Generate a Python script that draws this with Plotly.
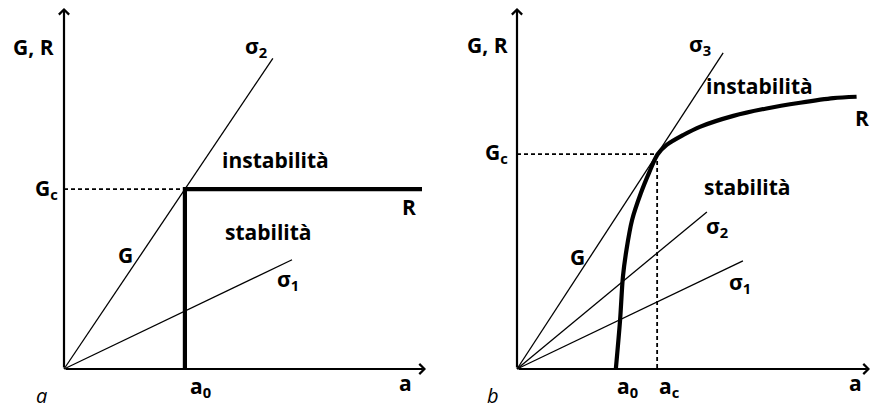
import plotly.graph_objects as go

# ---- panel a: constant resistance R ----
a0_A = 3.34          # initial crack length
Gc_A = 5.08          # critical energy release rate
sig_A_names = ["σ<sub>2</sub>", "σ<sub>1</sub>"]
sig_A_slopes = [Gc_A / a0_A, 0.49]
sig_A_ends = [5.77, 6.30]
R_A_end = 9.89

# ---- panel b: rising R-curve ----
ac_B = 3.97
Gc_B = 6.07
sig_B_names = ["σ<sub>3</sub>", "σ<sub>2</sub>", "σ<sub>1</sub>"]
sig_B_slopes = [Gc_B / ac_B, 0.825, 0.477]
sig_B_ends = [5.84, 5.38, 6.40]
R_B_a = [2.80, 2.92, 3.00, 3.10, 3.26, 3.51, 3.74, 3.98, 4.24, 4.71, 5.18, 6.13, 7.07, 8.02, 8.96, 9.62]
R_B_G = [0.00, 1.38, 2.60, 3.36, 4.21, 4.97, 5.54, 6.06, 6.33, 6.61, 6.84, 7.15, 7.36, 7.52, 7.65, 7.69]

# text labels: (text, a, G, style)
labels_A = [
    ("G, R", -0.84, 9.10, "b"), ("σ<sub>2</sub>", 5.30, 9.10, "b"),
    ("instabilità", 5.83, 5.90, "b"), ("G<sub>c</sub>", -0.47, 5.08, "b"),
    ("R", 9.53, 4.58, "b"), ("stabilità", 5.64, 3.87, "b"),
    ("G", 1.71, 3.22, "b"), ("σ<sub>1</sub>", 6.19, 2.51, "b"),
    ("a<sub>0</sub>", 3.76, -0.51, "b"), ("a", 9.42, -0.40, "b"),
    ("a", -0.61, -0.74, "i"),
]
labels_B = [
    ("G, R", -0.85, 9.15, "b"), ("σ<sub>3</sub>", 5.18, 9.15, "b"),
    ("instabilità", 6.88, 7.99, "b"), ("R", 9.77, 7.09, "b"),
    ("G<sub>c</sub>", -0.57, 6.10, "b"), ("stabilità", 6.54, 5.14, "b"),
    ("σ<sub>2</sub>", 5.67, 4.01, "b"), ("G", 1.70, 3.16, "b"),
    ("σ<sub>1</sub>", 6.32, 2.43, "b"), ("a<sub>0</sub>", 3.14, -0.51, "b"),
    ("a<sub>c</sub>", 4.33, -0.51, "b"), ("a", 9.58, -0.40, "b"),
    ("b", -0.68, -0.74, "i"),
]
axis_tip_a = 10.0
axis_tip_G = 10.2

# ---- layout geometry (pixels) ----
W, H = 873, 408
orig_A = (64, 369)
orig_B = (517, 369)
sx_A, sx_B, sy = 36.2, 35.3, 35.4

FONT = "Open Sans"
thin = dict(color="black", width=1.3)
dashed = dict(color="black", width=1.8, dash="4px,3px")

fig = go.Figure()

def line(x, y, xa, ya, **kw):
    fig.add_trace(go.Scatter(x=x, y=y, mode="lines", xaxis=xa, yaxis=ya,
                             hoverinfo="skip", showlegend=False, **kw))

# panel a
for s, e in zip(sig_A_slopes, sig_A_ends):
    line([0, e], [0, s * e], "x", "y", line=thin)
line([0, a0_A], [Gc_A, Gc_A], "x", "y", line=dashed)
line([a0_A, a0_A, R_A_end], [0, Gc_A, Gc_A], "x", "y", line=dict(color="black", width=4.2))

# panel b
for s, e in zip(sig_B_slopes, sig_B_ends):
    line([0, e], [0, s * e], "x2", "y2", line=thin)
line([0, ac_B, ac_B], [Gc_B, Gc_B, 0], "x2", "y2", line=dashed)
line(R_B_a, R_B_G, "x2", "y2", line=dict(color="black", width=4.2, shape="spline", smoothing=0.8))

ann = []
for xr, yr in (("x", "y"), ("x2", "y2")):
    # coordinate axes with open arrowheads
    for tx, ty in ((axis_tip_a, 0), (0, axis_tip_G)):
        ann.append(dict(x=tx, y=ty, ax=0, ay=0, xref=xr, yref=yr, axref=xr, ayref=yr,
                        showarrow=True, arrowhead=4, arrowwidth=2.2, arrowsize=0.9,
                        arrowcolor="black", text=""))

for labels, xr, yr in ((labels_A, "x", "y"), (labels_B, "x2", "y2")):
    for t, xv, yv, st in labels:
        if st == "b":
            f = dict(family=FONT, size=21, color="black", weight="bold")
        else:
            f = dict(family=FONT, size=20, color="black", style="italic")
        ann.append(dict(x=xv, y=yv, xref=xr, yref=yr, text=t, showarrow=False,
                        font=f, xanchor="center", yanchor="middle"))

def xrange(ox, sx, p0, p1):
    return [(p0 - ox) / sx, (p1 - ox) / sx]

yr_ = [(orig_A[1] - H) / sy, orig_A[1] / sy]
ax_common = dict(visible=False, fixedrange=True)
fig.update_layout(
    width=W, height=H, margin=dict(l=0, r=0, t=0, b=0),
    paper_bgcolor="white", plot_bgcolor="white",
    xaxis=dict(domain=[0, 0.5], range=xrange(orig_A[0], sx_A, 0, W / 2), **ax_common),
    yaxis=dict(domain=[0, 1], range=yr_, **ax_common),
    xaxis2=dict(domain=[0.5, 1], range=xrange(orig_B[0], sx_B, W / 2, W), **ax_common),
    yaxis2=dict(domain=[0, 1], range=yr_, anchor="x2", **ax_common),
    annotations=ann,
)

fig.write_html("out.html", config={"displayModeBar": False})
